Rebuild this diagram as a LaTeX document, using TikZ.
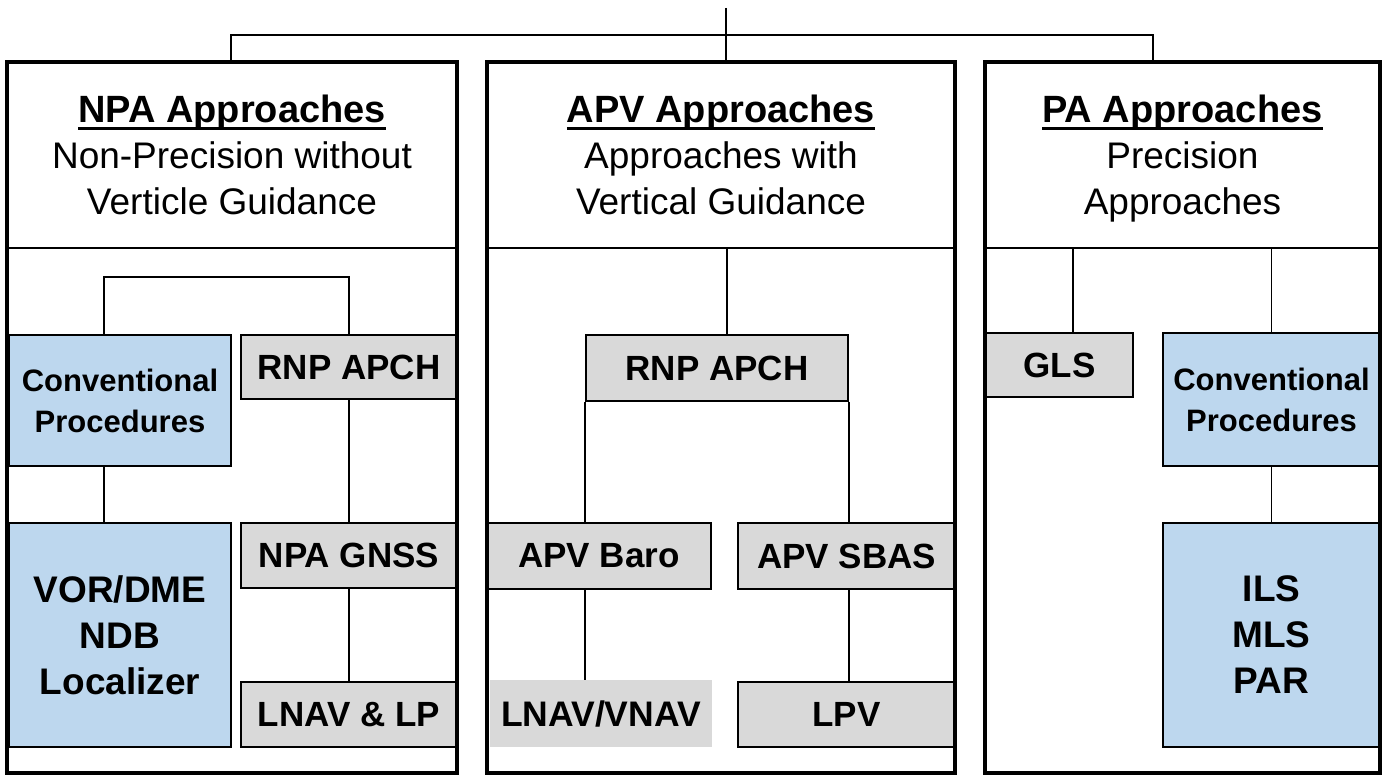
\documentclass[tikz,border=0pt]{standalone}
\usepackage{fontspec}
\setmainfont{Liberation Sans}
\definecolor{boxgray}{HTML}{D9D9D9}
\definecolor{boxblue}{HTML}{BDD7EE}
\newlength\ulwidth
\newcommand\thickul[1]{\settowidth\ulwidth{#1}\rlap{\rule[-7.5pt]{\ulwidth}{3.5pt}}#1}
\tikzset{
  panel/.style={draw, line width=3.5pt, inner sep=0pt},
  hdr/.style={draw, line width=2.5pt, inner sep=0pt, align=center,
    font=\fontsize{37}{46}\selectfont},
  gbox/.style={draw, line width=1.8pt, fill=boxgray, inner sep=0pt, align=center,
    font=\bfseries\fontsize{35}{46}\selectfont},
  gplain/.style={fill=boxgray, inner sep=0pt, align=center,
    font=\bfseries\fontsize{35.5}{46}\selectfont},
  bbox/.style={draw, line width=1.8pt, fill=boxblue, inner sep=0pt, align=center,
    font=\bfseries\fontsize{37}{46}\selectfont},
  bsmall/.style={bbox, font=\bfseries\fontsize{31}{41}\selectfont},
  conn/.style={line width=1.8pt},
}
\begin{document}
\begin{tikzpicture}[x=1pt, y=-1pt]
\useasboundingbox (0,0) rectangle (1387,775);
\fill[white] (0,0) rectangle (1387,775);

% headers
\node[hdr, minimum width=450pt, minimum height=186pt] (npah) at (232,155)
  {{\bfseries\fontsize{38}{46}\selectfont\thickul{NPA Approaches}}\\Non-Precision without\\Verticle Guidance};
\node[hdr, minimum width=468pt, minimum height=186pt] (apvh) at (721,155)
  {{\bfseries\fontsize{38}{46}\selectfont\thickul{APV Approaches}}\\Approaches with\\Vertical Guidance};
\node[hdr, minimum width=395pt, minimum height=186pt] (pah) at (1182.5,155)
  {{\bfseries\fontsize{38}{46}\selectfont\thickul{PA Approaches}}\\Precision\\\smash{Approaches}};

% NPA boxes
\node[bsmall, minimum width=222pt, minimum height=131pt] (conv1) at (120,400.5) {Conventional\\Procedures};
\node[gbox, minimum width=216pt, minimum height=64pt] (rnp1) at (349,367) {RNP APCH};
\node[gbox, minimum width=216pt, minimum height=65pt] (gnss) at (349,555.5) {NPA GNSS};
\node[bbox, minimum width=222pt, minimum height=224pt] (vor) at (120,635) {VOR/DME\\NDB\\Localizer};
\node[gbox, minimum width=216pt, minimum height=65pt] (lnav) at (349,714.5) {LNAV \& LP};

% APV boxes
\node[gbox, minimum width=262pt, minimum height=66pt] (rnp2) at (717,368) {RNP APCH};
\node[gbox, minimum width=224pt, minimum height=66pt] (baro) at (599,556) {APV Baro};
\node[gbox, minimum width=217pt, minimum height=66pt] (sbas) at (846.5,556) {APV SBAS};
\node[gplain, minimum width=222pt, minimum height=67pt] (lnavv) at (601,713.5) {LNAV/VNAV};
\node[gbox, minimum width=217pt, minimum height=65pt] (lpv) at (846.5,714.5) {LPV};

% PA boxes
\node[gbox, minimum width=147pt, minimum height=64pt] (gls) at (1059.5,365) {GLS};
\node[bsmall, minimum width=217pt, minimum height=133pt] (conv2) at (1271.5,399.5) {Conventional\\Procedures};
\node[bbox, minimum width=217pt, minimum height=224pt] (ils) at (1271.5,635) {ILS\\MLS\\PAR};

% panels
\node[panel, minimum width=450pt, minimum height=711pt] (npa) at (232,417.5) {};
\node[panel, minimum width=468pt, minimum height=711pt] (apv) at (721,417.5) {};
\node[panel, minimum width=395pt, minimum height=711pt] (pa) at (1182.5,417.5) {};

% top tree
\coordinate (root) at (726,8);
\coordinate (jl) at (231,35);
\coordinate (jr) at (1153,35);
\draw[conn] (root) -- (root |- apv.north);
\draw[conn] (jl |- npa.north) -- (jl) -- (jr) -- (jr |- pa.north);

% NPA connectors
\coordinate (cj) at (104,277);
\draw[conn] (conv1.north -| cj) -- (cj) -| (rnp1.north);
\draw[conn] (conv1.south -| cj) -- (vor.north -| cj);
\draw[conn] (rnp1.south) -- (gnss.north);
\draw[conn] (gnss.south) -- (lnav.north);

% APV connectors
\coordinate (ac) at (727,248);
\draw[conn] (ac |- apvh.south) -- (ac |- rnp2.north);
\draw[conn] (rnp2.south west) -- (rnp2.south west |- baro.north);
\draw[conn] (rnp2.south east) -- (rnp2.south east |- sbas.north);
\draw[conn] (rnp2.south west |- baro.south) -- (rnp2.south west |- lnavv.north);
\draw[conn] (rnp2.south east |- sbas.south) -- (rnp2.south east |- lpv.north);

% PA connectors
\coordinate (gc) at (1073,248);
\draw[conn] (gc |- pah.south) -- (gc |- gls.north);
\draw[conn] (conv2.north |- pah.south) -- (conv2.north);
\draw[conn] (conv2.south) -- (ils.north);
\end{tikzpicture}
\end{document}
